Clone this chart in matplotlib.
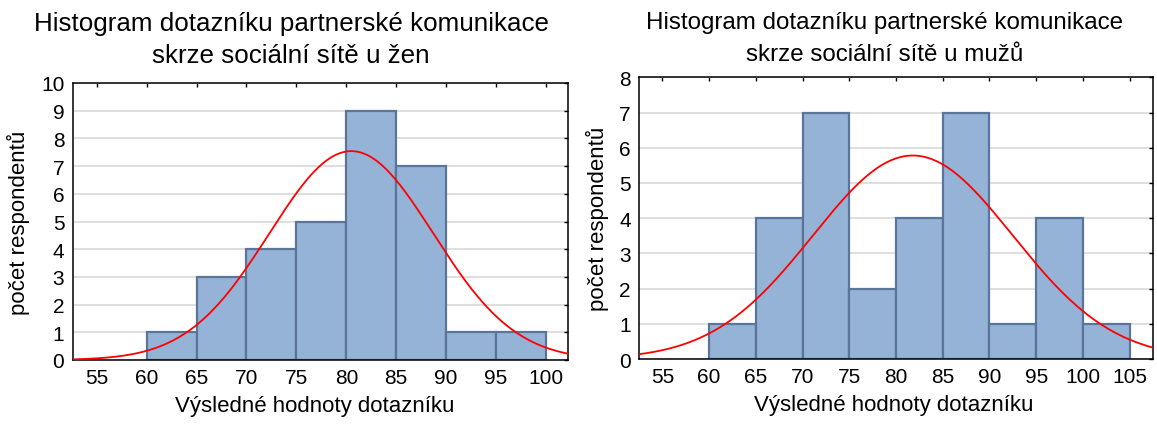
import numpy as np
import matplotlib
matplotlib.use('Agg')
import matplotlib.pyplot as plt

plt.rcParams['font.family'] = ['Liberation Sans', 'DejaVu Sans']

# data
bins_zeny = [60, 65, 70, 75, 80, 85, 90, 95, 100]
counts_zeny = [1, 3, 4, 5, 9, 7, 1, 1]
mean_zeny, sd_zeny = 80.5, 8.2

bins_muzi = [60, 65, 70, 75, 80, 85, 90, 95, 100, 105]
counts_muzi = [1, 4, 7, 2, 4, 7, 1, 4, 1]
mean_muzi, sd_muzi = 81.8, 10.7

xticks_zeny = [55, 60, 65, 70, 75, 80, 85, 90, 95, 100]
xticks_muzi = [55, 60, 65, 70, 75, 80, 85, 90, 95, 100, 105]

title_zeny = 'Histogram dotazníku partnerské komunikace\nskrze sociální sítě u žen'
title_muzi = 'Histogram dotazníku partnerské komunikace\nskrze sociální sítě u mužů'
xlabel = 'Výsledné hodnoty dotazníku'
ylabel = 'počet respondentů'

W, H = 1157, 427
fig = plt.figure(figsize=(W / 100, H / 100), dpi=100)


def px_axes(left, top, right, bottom):
    return fig.add_axes([left / W, 1 - bottom / H, (right - left) / W, (bottom - top) / H])


def draw(ax, bins, counts, mean, sd, xlim, ymax, xticks, xl_pos, yl_x):
    edges = np.array(bins, dtype=float)
    ax.bar(edges[:-1], counts, width=np.diff(edges), align='edge',
           color='#95b3d7', edgecolor='#5a7599', linewidth=1.6, zorder=2)
    n = sum(counts)
    w = edges[1] - edges[0]
    xs = np.linspace(xlim[0], xlim[1], 400)
    ys = n * w / (sd * np.sqrt(2 * np.pi)) * np.exp(-(xs - mean) ** 2 / (2 * sd ** 2))
    ax.plot(xs, ys, color='red', linewidth=1.3, zorder=3)
    ax.set_xlim(*xlim)
    ax.set_ylim(0, ymax)
    ax.set_xticks(xticks)
    ax.set_yticks(range(0, ymax + 1))
    ax.yaxis.grid(True, color='#d9d9d9', linewidth=1.2, zorder=0)
    ax.set_axisbelow(True)
    ax.tick_params(axis='both', labelsize=15, length=0, pad=6)
    ax.tick_params(top=True, right=True, direction='in', length=3, width=1)
    ax.tick_params(bottom=False, left=False)
    for s in ax.spines.values():
        s.set_linewidth(1.1)
    ax.set_xlabel(xlabel, fontsize=16)
    ax.set_ylabel(ylabel, fontsize=16)
    ax.xaxis.set_label_coords(xl_pos[0], xl_pos[1])
    ax.yaxis.set_label_coords(yl_x, 0.5)


ax1 = px_axes(72.7, 84, 568, 361)
draw(ax1, bins_zeny, counts_zeny, mean_zeny, sd_zeny, (52.6, 102.2), 10, xticks_zeny,
     (0.489, -0.125), -0.086)
fig.text(291 / W, 1 - 40 / H, title_zeny, ha='center', va='center', fontsize=18.7, linespacing=1.45)

ax2 = px_axes(639, 78.3, 1153, 360)
draw(ax2, bins_muzi, counts_muzi, mean_muzi, sd_muzi, (52.5, 107.5), 8, xticks_muzi,
     (0.496, -0.125), -0.058)
fig.text(885 / W, 1 - 39 / H, title_muzi, ha='center', va='center', fontsize=17.4, linespacing=1.55)

fig.savefig('out.png', dpi=100)
